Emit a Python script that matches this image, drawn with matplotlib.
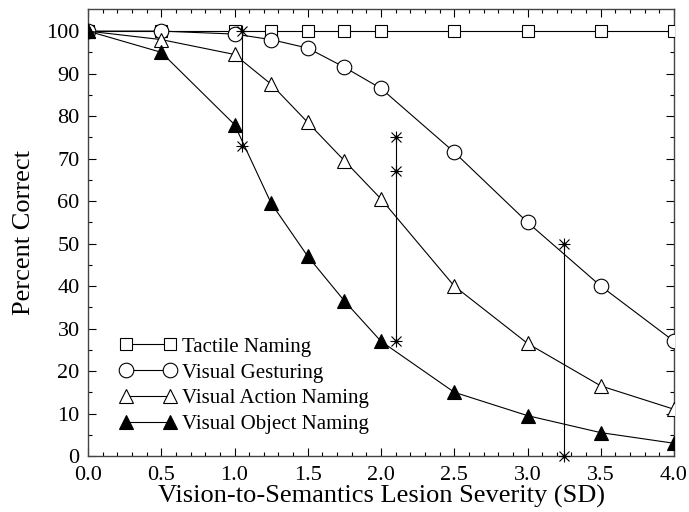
import matplotlib
matplotlib.use("Agg")
import matplotlib.pyplot as plt
from matplotlib.ticker import MultipleLocator, FixedLocator

plt.rcParams['font.family'] = ['Liberation Serif', 'DejaVu Serif']

severity = [0.0, 0.5, 1.0, 1.25, 1.5, 1.75, 2.0, 2.5, 3.0, 3.5, 4.0]
tactile = [100, 100, 100, 100, 100, 100, 100, 100, 100, 100, 100]
gesturing = [100, 100, 99.3, 98, 96, 91.5, 86.5, 71.5, 55, 40, 27]
action = [100, 98, 94.5, 87.5, 78.5, 69.5, 60.5, 40, 26.5, 16.5, 11]
objects = [100, 95, 78, 59.5, 47, 36.5, 27, 15, 9.5, 5.5, 3]

# patient data (vertical ranges with star markers)
pat_x = [1.05, 2.1, 3.25]
pat_vals = [[73, 100], [27, 67, 75], [0, 50]]

fig = plt.figure(figsize=(6.89, 5.12), dpi=100)
ax = fig.add_axes([88/689, 1-456/512, (674-88)/689, (456-9)/512])

lw = 0.8
ax.plot(severity, tactile, '-', color='black', lw=lw, marker='s', ms=8.6,
        mfc='white', mec='black', mew=lw, label='Tactile Naming', zorder=3)
ax.plot(severity, gesturing, '-', color='black', lw=lw, marker='o', ms=10.5,
        mfc='white', mec='black', mew=lw, label='Visual Gesturing', zorder=3)
ax.plot(severity, action, '-', color='black', lw=lw, marker='^', ms=10.5,
        mfc='white', mec='black', mew=lw, label='Visual Action Naming', zorder=3)
ax.plot(severity, objects, '-', color='black', lw=lw, marker='^', ms=10.5,
        mfc='black', mec='black', mew=lw, label='Visual Object Naming', zorder=3)

for x, vals in zip(pat_x, pat_vals):
    xs = [x] * len(vals)
    ax.plot([x, x], [min(vals), max(vals)], '-', color='black', lw=lw, zorder=4)
    ax.plot(xs, vals, linestyle='none', marker='+', ms=9, mec='black', mew=lw, zorder=5, clip_on=False)
    ax.plot(xs, vals, linestyle='none', marker='x', ms=6.5, mec='black', mew=lw, zorder=5, clip_on=False)
    ax.plot(xs, vals, linestyle='none', marker='o', ms=2, mfc='black', mec='black', zorder=5, clip_on=False)

ax.set_xlim(0, 4.0)
ax.set_ylim(0, 105.2)
ax.xaxis.set_major_locator(MultipleLocator(0.5))
ax.xaxis.set_minor_locator(MultipleLocator(0.1))
ax.yaxis.set_major_locator(FixedLocator(list(range(0, 101, 10))))
ax.yaxis.set_minor_locator(FixedLocator(list(range(5, 101, 10))))
ax.xaxis.set_major_formatter(plt.FuncFormatter(lambda v, p: f"{v:.1f}"))

ax.tick_params(which='both', direction='in', top=True, right=True, labelsize=16)
ax.tick_params(axis='x', which='major', pad=7)
ax.tick_params(axis='y', which='major', pad=6)
ax.tick_params(which='major', length=6, width=0.8)
ax.tick_params(which='minor', length=3, width=0.8)
for s in ax.spines.values():
    s.set_linewidth(1.0)
    s.set_color('#444444')

ax.set_xlabel('Vision-to-Semantics Lesion Severity (SD)', fontsize=19, labelpad=0)
ax.set_ylabel('Percent Correct', fontsize=19, labelpad=8)

leg = ax.legend(loc='lower left', bbox_to_anchor=(0.04, 0.03), frameon=False,
                fontsize=15, handlelength=2.7, handletextpad=0.3, labelspacing=0.3,
                numpoints=2, borderaxespad=0)

fig.savefig('out.png', dpi=100)
